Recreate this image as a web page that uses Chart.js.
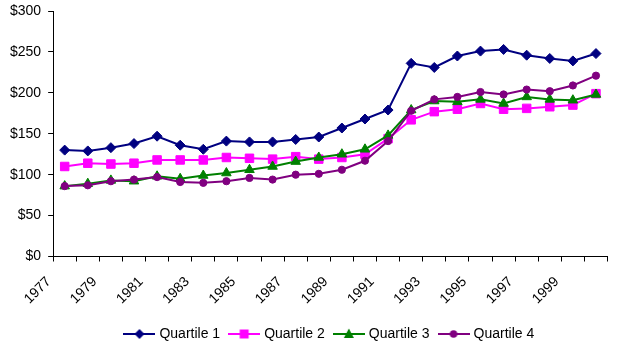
<!DOCTYPE html>
<html>
<head>
<meta charset="utf-8">
<script src="https://cdn.jsdelivr.net/npm/chart.js@4/dist/chart.umd.min.js"></script>
<style>
  html,body{margin:0;padding:0;background:#fff}
  #wrap{width:620px;height:341px}
</style>
</head>
<body>
<div id="wrap"><canvas id="c" width="620" height="341"></canvas></div>
<script>
// Years on the x axis
const annees = ["1977","1978","1979","1980","1981","1982","1983","1984","1985","1986","1987","1988",
                "1989","1990","1991","1992","1993","1994","1995","1996","1997","1998","1999","2000"];

// Values ($)
const quartile1 = [130,129,133,138,147,136,131,141,140,140,143,146,157,168,179,236,231,245,251,253,246,242,239,248];
const quartile2 = [110,114,113,114,118,118,118,121,120,119,122,119,121,125,144,167,177,180,187,180,181,183,185,199];
const quartile3 = [86,89,93,92,98,95,99,102,106,110,116,121,125,131,148,179,190,189,192,187,195,192,191,198];
const quartile4 = [86,87,92,94,97,91,90,92,96,94,100,101,106,117,141,178,192,195,201,198,204,202,209,221];

const yTicks = [0,50,100,150,200,250,300];

const FONT = "'Liberation Sans', Arial, sans-serif";

const series = [
  {label:"Quartile 1", data:quartile1, color:"#000080", style:"rectRot",  r:5,   order:3},
  {label:"Quartile 2", data:quartile2, color:"#FF00FF", style:"rect",     r:6,   order:2},
  {label:"Quartile 3", data:quartile3, color:"#008000", style:"triangle", r:5.5, order:1},
  {label:"Quartile 4", data:quartile4, color:"#800080", style:"circle",   r:3.6, order:0},
];

// icône "ligne + marqueur" de la légende
function legendIcon(s){
  const cv = document.createElement("canvas");
  cv.width = 32; cv.height = 12;
  const g = cv.getContext("2d");
  g.strokeStyle = s.color; g.fillStyle = s.color; g.lineWidth = 2;
  g.beginPath(); g.moveTo(0,6); g.lineTo(32,6); g.stroke();
  const cx = 16, cy = 6;
  g.beginPath();
  if (s.style === "rectRot"){ g.moveTo(cx,cy-5); g.lineTo(cx+5,cy); g.lineTo(cx,cy+5); g.lineTo(cx-5,cy); }
  else if (s.style === "rect"){ g.rect(cx-4.5,cy-4.5,9,9); }
  else if (s.style === "triangle"){ g.moveTo(cx,cy-5.5); g.lineTo(cx+5,cy+4); g.lineTo(cx-5,cy+4); }
  else { g.arc(cx,cy,3.8,0,Math.PI*2); }
  g.closePath(); g.fill();
  return cv;
}
const icons = series.map(legendIcon);

new Chart(document.getElementById("c"), {
  type:"line",
  data:{
    labels: annees,
    datasets: series.map(s => ({
      label: s.label, data: s.data,
      borderColor: s.color, backgroundColor: s.color,
      borderWidth: 2, tension: 0, fill: false,
      pointStyle: s.style, pointRadius: s.r, pointBorderWidth: 1,
      pointBackgroundColor: s.color, pointBorderColor: s.color,
      order: s.order,
    })),
  },
  options:{
    responsive:false, animation:false,
    layout:{padding:{left:3, right:6, top:0, bottom:-10}},
    scales:{
      x:{
        offset:true,
        grid:{offset:true, drawOnChartArea:false, color:"#000", tickLength:5},
        border:{color:"#000", width:1},
        ticks:{
          autoSkip:false, minRotation:45, maxRotation:45, padding:12, labelOffset:-16,
          color:"#000", font:{family:FONT, size:14},
          callback:(v,i)=> i%2===0 ? annees[i] : "",
        },
        afterFit: ax => { ax.height = 59.5; },
      },
      y:{
        min:0, max:300,
        afterBuildTicks: ax => { ax.ticks = yTicks.map(v => ({value:v})); },
        afterFit: ax => { ax.paddingTop = 11; },
        grid:{drawOnChartArea:false, color:"#000", tickLength:5},
        border:{color:"#000", width:1},
        ticks:{padding:7, color:"#000", font:{family:FONT, size:14}, callback:v=>"$"+v},
      },
    },
    plugins:{
      tooltip:{enabled:false},
      legend:{
        position:"bottom", fullSize:false,
        labels:{
          usePointStyle:true, pointStyleWidth:26, padding:11,
          color:"#000", font:{family:FONT, size:14},
          generateLabels: chart => chart.data.datasets.map((ds,i)=>({
            text: ds.label, pointStyle: icons[i], datasetIndex: i,
            fillStyle: ds.borderColor, strokeStyle: ds.borderColor, lineWidth: 0, hidden: false,
          })),
        },
      },
    },
  },
});
</script>
</body>
</html>
